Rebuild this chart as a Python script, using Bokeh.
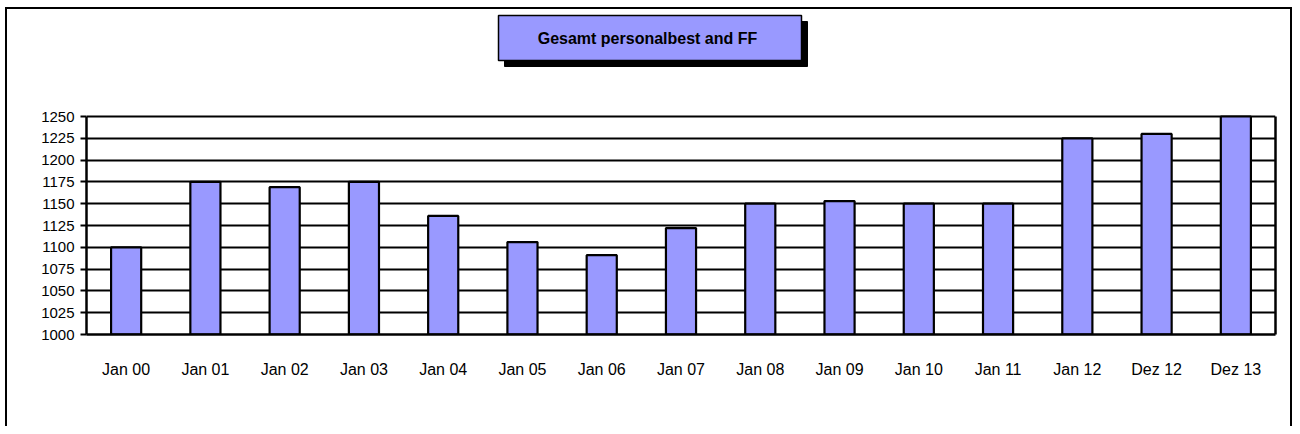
from bokeh.plotting import figure
from bokeh.models import Range1d, FixedTicker, LinearAxis
from bokeh.core.properties import value
from bokeh.embed import file_html
from bokeh.resources import INLINE

categories = ["Jan 00", "Jan 01", "Jan 02", "Jan 03", "Jan 04", "Jan 05", "Jan 06",
              "Jan 07", "Jan 08", "Jan 09", "Jan 10", "Jan 11", "Jan 12", "Dez 12", "Dez 13"]
values = [1100, 1175, 1169, 1175, 1136, 1106, 1091, 1122, 1150, 1153, 1150, 1150, 1225, 1230, 1250]
y_ticks = list(range(1000, 1251, 25))
title_text = "Gesamt personalbest and FF"

BAR = "#9999FF"
FONT = "Liberation Sans"

W, H = 1292, 426
# plot-area geometry in canvas pixels
F_LEFT, F_TOP, F_RIGHT, F_BOTTOM = 86, 116, 1275, 334
Y0, Y1 = 1000, 1250
Y_TOP = Y1 + F_TOP * (Y1 - Y0) / (F_BOTTOM - F_TOP)   # frame extends to canvas top

p = figure(x_range=categories, y_range=Range1d(Y0, Y_TOP),
           width=W, height=H,
           min_border_left=F_LEFT, min_border_top=0,
           min_border_right=W - F_RIGHT, min_border_bottom=H - F_BOTTOM,
           output_backend="svg", toolbar_location=None, tools="")

# outer chart border (left, top, right) via CSS inset shadows
p.styles = {"box-shadow": "inset 5px 0 0 0 white, inset 0 7px 0 0 white, "
                          "inset 7px 0 0 0 black, inset 0 9px 0 0 black, "
                          "inset -2px 0 0 0 black"}
p.border_fill_color = None
p.background_fill_color = None
p.outline_line_color = None

def px_x(px):
    return (px - F_LEFT) / ((F_RIGHT - F_LEFT) / len(categories))

def px_y(py):
    return Y1 + (F_TOP - py) * (Y1 - Y0) / (F_BOTTOM - F_TOP)

p.xgrid.grid_line_color = None
p.ygrid.ticker = FixedTicker(ticks=y_ticks)
p.ygrid.grid_line_color = "black"
p.ygrid.grid_line_width = 2.2
p.yaxis.ticker = FixedTicker(ticks=y_ticks)
p.yaxis.bounds = (Y0, Y1)

p.vbar(x=categories, top=values, bottom=Y0, width=0.38,
       fill_color=BAR, line_color="black", line_width=2.2)

for ax in (p.yaxis[0], p.xaxis[0]):
    ax.axis_line_color = "black"
    ax.axis_line_width = 2.5
    ax.major_label_text_font = FONT
    ax.major_label_text_color = "black"
    ax.minor_tick_line_color = None

p.yaxis.major_label_text_font_size = "15px"
p.yaxis.major_tick_line_color = "black"
p.yaxis.major_tick_line_width = 2
p.yaxis.major_tick_out = 6
p.yaxis.major_tick_in = 0
p.yaxis.major_label_standoff = 6

p.xaxis.major_label_text_font_size = "16px"
p.xaxis.major_tick_line_color = None
p.xaxis.major_tick_out = 0
p.xaxis.major_tick_in = 0
p.xaxis.major_label_standoff = 26

# right edge of the plot area
right_axis = LinearAxis(bounds=(Y0, Y1), ticker=FixedTicker(ticks=[]),
                        axis_line_color="black", axis_line_width=2.5,
                        major_tick_line_color=None, minor_tick_line_color=None,
                        major_label_text_font_size="0px")
p.add_layout(right_axis, "right")

# title box: shadow, box, text
p.quad(left=[px_x(504)], right=[px_x(807)], top=[px_y(21)], bottom=[px_y(66)],
       fill_color="black", line_color="black", line_width=1)
p.quad(left=[px_x(498)], right=[px_x(801)], top=[px_y(15)], bottom=[px_y(60)],
       fill_color=BAR, line_color="black", line_width=1.5)
p.text(x=[px_x(647)], y=[px_y(37.5)], text=[title_text],
       text_align="center", text_baseline="middle",
       text_font=value(FONT), text_font_size="16px", text_font_style="bold",
       text_color="black")

open("out.html", "w").write(file_html(p, INLINE))
